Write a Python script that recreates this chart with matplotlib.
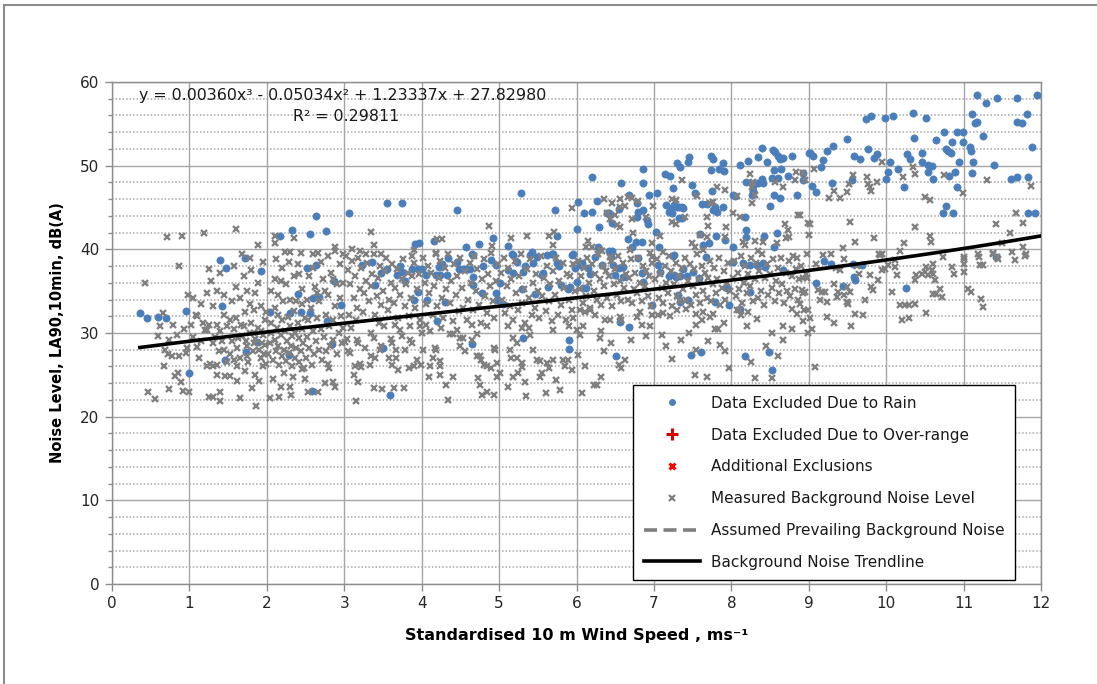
import matplotlib
matplotlib.use('Agg')
import matplotlib.pyplot as plt
import numpy as np
from matplotlib.lines import Line2D
from matplotlib.patches import Rectangle
from matplotlib.ticker import MultipleLocator

plt.rcParams['font.family'] = ['DejaVu Sans']

# ---------------- data ----------------
x_ticks = list(range(0, 13))
y_ticks = list(range(0, 61, 10))
trend_coef = [0.00360, -0.05034, 1.23337, 27.82980]
trend_range = [0.36, 12.0]
eq_text = "y = 0.00360x\u00b3 - 0.05034x\u00b2 + 1.23337x + 27.82980"
r2_text = "R\u00b2 = 0.29811"
legend_labels = ["Data Excluded Due to Rain", "Data Excluded Due to Over-range",
                 "Additional Exclusions", "Measured Background Noise Level",
                 "Assumed Prevailing Background Noise", "Background Noise Trendline"]
x_label = "Standardised 10 m Wind Speed , ms\u207b\u00b9"
y_label = "Noise Level, LA90,10min, dB(A)"

# Data excluded due to rain (wind speed m/s, dB(A))
rain_low = [
    (0.36, 32.4), (0.45, 31.8), (0.59, 31.9), (0.70, 31.8), (0.96, 32.6), (0.99, 25.2),
    (1.39, 38.7), (1.47, 37.8), (1.72, 39.0), (1.92, 37.4), (1.42, 33.2), (1.46, 26.8),
    (1.73, 27.7), (1.87, 28.9), (2.04, 32.5), (2.30, 32.4), (2.44, 32.5), (2.40, 34.7),
    (2.52, 37.8), (2.64, 38.1), (2.60, 34.2), (2.67, 34.3), (2.56, 32.4), (2.78, 31.4),
    (2.84, 28.7), (2.87, 36.2), (2.96, 33.3), (2.58, 23.1), (2.29, 27.4),
    (2.17, 41.6), (2.33, 42.3), (2.56, 41.8), (2.64, 44.0), (2.77, 42.2), (3.06, 44.3),
    (3.55, 45.5), (3.74, 45.5), (4.46, 44.7), (5.28, 46.7), (5.72, 44.7), (6.02, 45.7),
    (6.00, 42.4), (5.75, 41.6), (3.91, 40.6), (3.97, 40.8), (4.16, 41.0), (4.57, 40.3),
    (4.74, 40.6), (4.92, 41.4), (5.11, 40.4), (5.17, 39.4), (5.42, 39.7), (5.68, 39.5),
    (5.94, 39.3), (4.65, 39.4),
]
rain_mid = [
    (3.23, 38.1), (3.36, 38.5), (3.47, 37.2), (3.55, 37.6), (3.68, 36.9), (3.72, 38.0),
    (3.75, 37.3), (3.78, 36.2), (3.40, 35.7), (3.88, 37.6), (3.95, 37.6), (4.00, 37.6),
    (4.06, 36.9), (3.95, 34.9), (3.90, 34.0), (4.07, 34.0), (4.20, 31.4), (4.30, 33.7),
    (4.18, 36.9), (4.24, 36.9), (4.33, 36.9), (4.22, 37.9), (4.26, 38.2), (4.34, 39.0),
    (4.46, 38.5), (4.48, 37.6), (4.53, 37.6), (4.57, 37.6), (4.62, 37.6), (4.66, 39.3),
    (4.66, 36.7), (4.66, 35.7), (4.78, 34.8), (4.79, 38.0), (4.90, 38.7), (4.96, 38.1),
    (4.96, 34.8), (4.97, 34.0), (5.01, 36.0), (5.05, 33.5), (5.18, 39.3), (5.23, 38.5),
    (5.11, 37.5), (5.18, 37.2), (5.30, 35.3), (5.31, 37.3), (5.33, 38.0), (5.40, 39.3),
    (5.44, 38.4), (5.49, 39.1), (5.46, 34.7), (5.55, 36.9), (5.57, 37.2), (5.62, 39.3),
    (5.70, 39.4), (5.63, 35.5), (5.75, 38.4), (5.77, 38.0), (5.80, 35.7), (5.89, 35.3),
    (5.92, 35.5), (6.04, 38.1), (5.31, 29.4), (4.65, 28.7), (3.50, 28.2), (5.90, 29.2),
    (5.90, 28.1), (3.59, 22.6),
    (5.98, 37.8), (6.00, 36.1), (6.08, 35.4), (6.12, 35.4), (6.07, 38.4), (6.15, 37.8),
    (6.17, 37.0), (6.24, 39.1), (6.33, 38.1), (6.44, 39.1), (6.47, 38.1), (6.50, 36.9),
    (6.55, 37.8), (6.60, 37.9), (6.60, 36.7), (6.79, 39.0), (6.85, 37.2), (6.86, 36.1),
    (6.97, 33.3), (7.05, 38.1), (7.08, 37.3), (7.20, 36.8), (7.26, 36.9), (7.29, 36.7),
    (7.34, 36.8), (7.25, 39.2), (7.38, 37.6), (7.43, 36.8), (7.31, 34.5), (7.34, 33.7),
    (7.44, 34.0), (7.50, 37.3), (7.58, 36.6), (7.67, 39.1), (7.79, 33.7), (7.94, 35.4),
    (7.97, 33.3), (8.02, 38.5), (8.11, 32.9), (8.15, 38.4), (8.24, 38.1), (8.24, 34.9),
    (8.33, 38.1), (8.41, 38.4), (8.43, 37.9), (8.67, 37.5), (6.56, 31.3), (6.68, 30.7),
    (6.51, 27.3), (7.48, 27.4), (7.61, 27.7), (8.18, 27.3), (8.49, 27.7), (8.52, 25.6),
    (9.20, 38.6), (9.29, 38.2), (9.09, 36.0), (9.44, 35.6), (9.58, 36.7), (9.60, 36.3),
    (9.57, 38.2), (9.69, 38.1), (10.26, 35.4), (11.42, 39.1),
]
rain_high = [
    (6.20, 48.6), (6.86, 49.6), (6.86, 47.9), (6.57, 47.9), (6.10, 44.3), (6.20, 44.5),
    (6.26, 45.8), (6.29, 42.7), (6.39, 44.3), (6.42, 44.3), (6.55, 44.8), (6.68, 46.5),
    (6.78, 45.5), (6.79, 44.5), (6.78, 43.9), (6.86, 44.7), (6.91, 43.5), (6.93, 43.0),
    (6.94, 46.5), (7.04, 46.7), (6.46, 43.1), (6.66, 41.2), (6.72, 40.3), (6.77, 40.9),
    (6.85, 40.9), (6.28, 40.3), (6.42, 39.8), (6.46, 39.8), (5.95, 39.4), (7.03, 42.1),
    (7.07, 40.3), (7.26, 39.3), (7.14, 49.0), (7.21, 48.8), (7.30, 50.3), (7.34, 49.8),
    (7.44, 50.4), (7.45, 51.0), (7.25, 47.3), (7.16, 45.3), (7.22, 45.0), (7.26, 45.3),
    (7.30, 45.1), (7.32, 45.1), (7.36, 45.1), (7.20, 44.5), (7.23, 44.3), (7.32, 43.7),
    (7.36, 43.7), (7.38, 45.0), (7.49, 47.7), (7.53, 46.7), (7.62, 45.4), (7.69, 45.4),
    (7.74, 51.2), (7.76, 50.8), (7.74, 49.5), (7.75, 47.0), (7.79, 45.1), (7.84, 49.6),
    (7.89, 50.3), (7.90, 49.4), (7.76, 44.7), (7.81, 44.5), (7.89, 45.1), (7.63, 40.5),
    (7.71, 40.8), (7.60, 41.8), (7.80, 41.6), (7.92, 41.1), (8.02, 40.3), (8.11, 50.1),
    (8.21, 50.6), (8.34, 51.0), (8.40, 52.1), (8.46, 50.4), (8.54, 51.9), (8.57, 51.6),
    (8.60, 51.2), (8.63, 50.8), (8.67, 50.9), (8.78, 51.2), (8.55, 49.5), (8.64, 49.6),
    (8.60, 48.5), (8.52, 48.5), (8.40, 48.4), (8.34, 47.9), (8.41, 47.9), (8.19, 48.0),
    (8.28, 47.6), (8.28, 47.0), (8.27, 46.5), (8.02, 46.5), (8.05, 46.4), (8.55, 46.5),
    (8.63, 46.1), (8.50, 45.2), (8.73, 48.8), (8.85, 46.5), (8.18, 43.9), (8.19, 42.3),
    (8.19, 41.5), (8.42, 41.6), (8.59, 42.0), (8.55, 40.3), (9.02, 51.5),
    (8.92, 49.1), (8.93, 48.3), (9.04, 47.6), (9.09, 46.9), (9.00, 51.5), (9.05, 51.2),
    (9.16, 49.9), (9.19, 50.7), (9.23, 51.7), (9.31, 52.3), (9.30, 47.9), (9.49, 53.2),
    (9.56, 48.3), (9.58, 51.2), (9.66, 50.8), (9.74, 55.6), (9.80, 55.9), (9.76, 52.0),
    (9.84, 50.9), (9.88, 51.4), (9.98, 55.7), (10.09, 55.9), (10.00, 48.4), (10.02, 49.2),
    (10.05, 50.4), (10.15, 49.6), (10.23, 47.4), (10.27, 51.4), (10.31, 50.8), (10.35, 56.3),
    (10.36, 53.3), (10.46, 51.5), (10.46, 50.4), (10.52, 55.7), (10.54, 50.1), (10.59, 50.0),
    (10.54, 49.2), (10.61, 48.4), (10.65, 53.1), (10.75, 54.0), (10.77, 52.0), (10.80, 51.8),
    (10.84, 51.5), (10.85, 52.8), (10.89, 49.2), (10.81, 48.8), (10.91, 54.0), (10.99, 54.0),
    (10.91, 47.4), (10.99, 52.8), (10.94, 50.4), (10.77, 45.2), (10.73, 44.3), (10.86, 44.3),
    (11.08, 52.2), (11.10, 51.8), (11.11, 56.2), (11.12, 50.4), (11.11, 49.1), (11.15, 55.1),
    (11.17, 55.2), (11.17, 58.4), (11.25, 53.5), (11.29, 57.5), (11.39, 50.1), (11.43, 58.1),
    (11.61, 48.4), (11.69, 48.6), (11.69, 58.1), (11.69, 55.2), (11.75, 55.1), (11.82, 56.2),
    (11.83, 48.6), (11.88, 52.2), (11.83, 44.3), (11.92, 44.4), (11.95, 58.4),
]

# Measured background noise level (wind speed m/s, dB(A))
bg_0 = [
    (0.42, 36.0), (0.46, 22.9), (0.55, 22.1), (0.59, 29.7), (0.62, 30.8), (0.66, 32.4),
    (0.67, 26.1), (0.68, 28.0), (0.71, 41.5), (0.72, 27.5), (0.74, 29.2), (0.74, 23.3),
    (0.78, 27.3), (0.81, 24.9), (0.85, 25.2), (0.87, 38.0), (0.87, 27.2), (0.89, 24.2),
    (0.90, 41.6), (0.92, 23.1), (0.95, 27.6), (0.97, 28.2), (0.93, 30.5), (0.98, 34.5),
    (0.84, 29.8), (0.79, 31.0),
]
bg_1 = [
    (1.00, 23.0), (1.05, 34.2), (1.08, 32.1), (1.10, 32.0), (1.19, 42.0), (1.20, 30.3),
    (1.23, 30.4), (1.23, 34.8), (1.25, 37.6), (1.25, 30.9), (1.23, 26.1), (1.27, 26.3),
    (1.25, 22.4), (1.30, 22.4), (1.30, 26.0), (1.36, 26.2), (1.39, 22.9), (1.39, 21.9),
    (1.40, 37.2), (1.46, 24.9), (1.52, 24.9), (1.05, 29.5), (1.10, 28.3), (1.12, 27.0),
    (1.15, 29.0), (1.18, 31.2), (1.30, 28.8), (1.33, 29.5), (1.35, 31.0), (1.38, 27.8),
    (1.40, 30.2), (1.42, 29.0), (1.45, 28.0), (1.48, 30.8), (1.15, 33.5), (1.30, 33.2),
    (1.35, 35.0), (1.45, 34.5), (1.28, 36.2), (1.45, 32.2), (1.48, 26.5), (1.02, 31.0),
    (1.35, 25.0), (1.60, 42.4), (1.61, 24.3), (1.65, 22.2), (1.81, 23.4), (1.86, 21.3),
    (1.95, 26.1), (1.99, 26.3), (1.55, 29.0), (1.58, 30.5), (1.60, 31.8), (1.62, 28.2),
    (1.65, 27.0), (1.68, 29.6), (1.70, 30.8), (1.72, 32.5), (1.75, 28.5), (1.76, 26.5),
    (1.78, 30.0), (1.80, 31.2), (1.82, 27.8), (1.85, 29.3), (1.88, 30.6), (1.90, 28.0),
    (1.92, 27.0), (1.95, 29.8), (1.97, 31.5), (1.98, 28.6), (1.55, 33.8), (1.60, 35.5),
    (1.65, 34.2), (1.70, 36.8), (1.75, 35.0), (1.78, 33.5), (1.80, 37.5), (1.85, 34.8),
    (1.88, 36.0), (1.92, 33.2), (1.95, 38.5), (1.58, 38.0), (1.68, 39.5), (1.72, 25.5),
    (1.85, 25.0), (1.90, 24.3), (1.52, 27.5), (1.62, 26.0), (1.83, 32.8), (1.93, 30.2),
    (1.99, 32.5), (1.78, 39.0), (1.88, 40.5), (1.57, 26.8), (1.66, 31.0), (1.74, 27.2),
    (1.84, 30.0), (1.94, 28.8), (1.53, 31.5), (1.63, 29.4), (1.73, 29.0), (1.83, 28.8),
    (1.96, 27.5),
]
bg_2 = [
    (2.04, 22.2), (2.16, 22.3), (2.18, 23.5), (2.31, 22.6), (2.30, 23.5), (2.45, 25.7),
    (2.10, 41.6), (2.10, 40.8), (2.35, 41.4), (2.23, 39.7), (2.30, 39.7), (2.44, 39.6),
    (2.02, 27.5), (2.04, 28.8), (2.05, 30.0), (2.06, 31.2), (2.08, 26.8), (2.10, 29.2),
    (2.10, 33.0), (2.12, 27.9), (2.13, 30.6), (2.14, 32.2), (2.15, 28.5), (2.16, 26.2),
    (2.18, 29.8), (2.19, 31.5), (2.20, 27.2), (2.21, 33.8), (2.22, 28.0), (2.24, 30.2),
    (2.25, 26.6), (2.26, 29.0), (2.27, 31.9), (2.28, 27.6), (2.30, 30.8), (2.31, 28.4),
    (2.32, 26.0), (2.33, 29.6), (2.35, 32.6), (2.36, 27.0), (2.37, 30.0), (2.38, 28.2),
    (2.40, 31.2), (2.41, 26.5), (2.42, 29.4), (2.44, 27.8), (2.45, 33.5), (2.46, 30.5),
    (2.47, 28.8), (2.48, 25.8), (2.49, 31.8), (2.05, 35.0), (2.10, 36.5), (2.15, 34.5),
    (2.20, 37.8), (2.25, 35.8), (2.30, 34.0), (2.35, 36.8), (2.40, 38.2), (2.45, 35.2),
    (2.12, 38.8), (2.28, 38.5), (2.38, 33.8), (2.22, 25.2), (2.34, 24.8), (2.08, 24.5),
    (2.18, 36.2), (2.42, 37.0),
    (2.49, 24.5), (2.53, 22.9), (2.66, 23.0), (2.75, 24.0), (2.80, 25.8), (2.85, 24.2),
    (2.88, 23.5), (2.79, 26.3), (2.60, 39.4), (2.66, 39.6), (2.79, 39.2), (2.88, 40.3),
    (2.88, 39.8), (2.51, 27.0), (2.52, 29.5), (2.53, 31.5), (2.55, 28.2), (2.57, 33.0),
    (2.58, 26.2), (2.60, 30.2), (2.61, 27.5), (2.62, 35.5), (2.64, 29.0), (2.65, 31.8),
    (2.67, 28.0), (2.68, 33.8), (2.70, 30.5), (2.71, 26.8), (2.73, 36.5), (2.74, 29.5),
    (2.76, 32.2), (2.77, 27.8), (2.79, 34.5), (2.80, 30.8), (2.82, 28.5), (2.83, 37.2),
    (2.85, 31.5), (2.86, 29.2), (2.88, 33.2), (2.90, 27.5), (2.91, 35.8), (2.93, 30.0),
    (2.94, 38.2), (2.96, 32.0), (2.97, 28.8), (2.99, 36.0), (2.55, 36.8), (2.60, 37.8),
    (2.70, 38.5), (2.65, 34.8), (2.75, 35.0), (2.85, 36.5), (2.95, 34.2), (2.52, 34.0),
    (2.98, 39.5),
]
bg_3 = [
    (3.02, 39.2), (3.05, 37.5), (3.08, 35.8), (3.10, 38.6), (3.12, 34.2), (3.14, 36.8),
    (3.16, 33.0), (3.18, 39.0), (3.20, 35.2), (3.22, 37.8), (3.24, 32.5), (3.26, 34.8),
    (3.28, 36.2), (3.30, 38.4), (3.32, 33.8), (3.34, 35.6), (3.36, 37.0), (3.38, 39.4),
    (3.40, 32.2), (3.42, 34.4), (3.44, 36.6), (3.46, 38.0), (3.48, 33.4), (3.50, 35.0),
    (3.52, 37.4), (3.54, 39.0), (3.56, 32.8), (3.58, 34.0), (3.60, 36.0), (3.62, 38.2),
    (3.64, 33.6), (3.66, 35.4), (3.68, 37.6), (3.70, 31.8), (3.72, 34.6), (3.74, 36.4),
    (3.76, 38.8), (3.78, 33.2), (3.80, 35.8), (3.82, 37.2), (3.84, 32.0), (3.86, 34.2),
    (3.88, 36.8), (3.90, 38.4), (3.92, 33.0), (3.94, 35.2), (3.96, 37.0), (3.98, 31.6),
    (3.06, 32.2), (3.15, 31.5), (3.45, 31.2), (3.65, 31.0), (3.85, 30.8),
    (3.34, 42.1), (3.38, 40.5), (3.10, 40.0), (3.20, 39.8), (3.28, 39.4), (3.48, 39.5),
    (3.90, 39.9), (3.88, 39.2),
    (2.99, 30.6), (3.09, 30.6), (3.03, 29.3), (3.01, 28.9), (3.05, 27.9), (3.07, 27.6),
    (3.16, 29.2), (3.18, 28.8), (3.14, 26.1), (3.20, 26.3), (3.22, 25.9), (3.12, 25.0),
    (3.18, 24.2), (3.15, 21.9), (3.27, 28.2), (3.35, 30.0), (3.38, 29.4), (3.35, 27.2),
    (3.40, 27.0), (3.33, 26.2), (3.46, 28.0), (3.48, 28.4), (3.51, 30.8), (3.60, 29.3),
    (3.62, 28.8), (3.67, 28.0), (3.58, 27.0), (3.67, 27.0), (3.62, 26.2), (3.70, 25.6),
    (3.38, 23.4), (3.49, 23.3), (3.64, 23.4), (3.77, 23.4), (3.72, 30.4), (3.74, 29.6),
    (3.85, 29.2), (3.87, 28.8), (3.78, 28.0), (3.83, 25.8), (3.90, 26.0), (3.99, 26.2),
    (3.94, 26.8),
]
bg_4 = [
    (4.02, 28.0), (3.98, 30.8), (4.00, 30.0), (4.11, 30.2), (4.17, 28.2), (4.19, 28.0),
    (4.15, 27.0), (4.24, 26.6), (4.11, 26.0), (4.09, 24.8), (4.24, 26.0), (4.24, 25.0),
    (4.32, 23.8), (4.34, 22.0), (4.41, 24.8), (4.37, 29.9), (4.41, 29.9), (4.50, 29.4),
    (4.54, 29.4), (4.50, 28.4), (4.56, 27.9), (4.65, 29.2), (4.71, 29.9), (4.71, 27.2),
    (4.75, 27.2), (4.77, 26.8), (4.80, 26.2), (4.73, 24.6), (4.75, 23.8), (4.84, 23.0),
    (4.78, 22.6), (4.93, 22.6), (4.84, 26.0), (4.90, 25.8), (4.97, 24.8), (5.01, 25.2),
    (4.95, 28.0), (4.93, 28.2), (4.97, 26.4),
    (4.02, 39.0), (4.04, 36.0), (4.06, 33.5), (4.08, 38.0), (4.10, 34.8), (4.12, 37.2),
    (4.14, 32.2), (4.16, 35.6), (4.18, 39.6), (4.20, 33.2), (4.22, 36.6), (4.24, 38.6),
    (4.26, 34.2), (4.28, 31.8), (4.30, 37.8), (4.32, 35.2), (4.34, 39.4), (4.36, 33.6),
    (4.38, 36.2), (4.40, 31.4), (4.42, 38.2), (4.44, 34.6), (4.46, 36.8), (4.48, 32.6),
    (4.50, 39.0), (4.52, 35.4), (4.54, 33.0), (4.56, 37.4), (4.58, 31.6), (4.60, 34.0),
    (4.62, 38.4), (4.64, 36.0), (4.66, 32.8), (4.68, 39.2), (4.70, 35.0), (4.72, 37.6),
    (4.74, 33.4), (4.76, 31.2), (4.78, 36.4), (4.80, 38.8), (4.82, 34.4), (4.84, 32.4),
    (4.86, 37.0), (4.88, 35.6), (4.90, 39.6), (4.92, 33.8), (4.94, 31.8), (4.96, 36.2),
    (4.98, 38.2), (4.05, 31.0), (4.25, 30.6), (4.45, 30.4), (4.65, 31.0), (4.85, 30.8),
    (4.87, 42.8), (4.91, 40.4), (4.20, 41.2), (4.26, 41.2), (4.18, 39.5),
]
bg_5 = [
    (5.12, 30.8), (5.18, 29.4), (5.23, 28.8), (5.14, 28.0), (5.16, 27.0), (5.23, 27.0),
    (5.29, 26.4), (5.29, 25.9), (5.25, 25.2), (5.18, 24.8), (5.12, 23.6), (5.34, 24.2),
    (5.38, 30.6), (5.40, 29.8), (5.44, 28.0), (5.49, 26.8), (5.53, 26.6), (5.53, 24.8),
    (5.55, 25.2), (5.62, 26.4), (5.64, 25.8), (5.70, 26.8), (5.74, 24.4), (5.79, 23.2),
    (5.83, 26.8), (5.85, 26.0), (5.89, 26.8), (5.94, 25.6), (6.00, 30.4), (6.04, 29.8),
    (5.60, 22.8), (5.35, 22.5),
    (5.02, 37.2), (5.04, 34.0), (5.06, 39.0), (5.08, 32.4), (5.10, 35.6), (5.12, 37.8),
    (5.14, 33.2), (5.16, 36.4), (5.18, 31.6), (5.20, 38.6), (5.22, 34.8), (5.24, 32.8),
    (5.26, 36.8), (5.28, 39.4), (5.30, 33.6), (5.32, 35.2), (5.34, 31.2), (5.36, 37.6),
    (5.38, 34.2), (5.40, 38.8), (5.42, 32.2), (5.44, 36.0), (5.46, 33.0), (5.48, 37.0),
    (5.50, 35.0), (5.52, 31.8), (5.54, 39.2), (5.56, 34.4), (5.58, 36.6), (5.60, 32.6),
    (5.62, 38.0), (5.64, 33.8), (5.66, 35.8), (5.68, 31.4), (5.70, 37.4), (5.72, 34.6),
    (5.74, 39.0), (5.76, 32.2), (5.78, 36.2), (5.80, 33.4), (5.82, 38.4), (5.84, 35.4),
    (5.86, 31.6), (5.88, 37.0), (5.90, 34.0), (5.92, 36.8), (5.94, 32.8), (5.96, 38.2),
    (5.98, 35.0), (5.30, 30.6), (5.70, 30.4), (5.90, 30.8),
    (5.15, 41.4), (5.36, 41.6), (5.64, 41.6), (5.71, 42.1), (5.69, 40.5), (5.94, 44.9),
]
bg_6 = [
    (5.96, 31.8), (6.09, 30.8), (6.05, 32.7), (6.11, 32.5), (6.17, 32.7), (6.24, 32.1),
    (6.32, 30.2), (6.30, 29.4), (6.35, 27.8), (6.37, 31.5), (6.43, 31.5), (6.56, 31.9),
    (6.58, 31.5), (6.63, 26.8), (6.55, 26.2), (6.58, 25.8), (6.32, 24.8), (6.26, 23.8),
    (6.22, 23.8), (6.07, 22.8), (6.11, 26.0), (6.02, 27.4), (6.78, 31.9), (6.82, 32.5),
    (6.84, 31.0), (6.95, 30.8), (6.97, 32.1), (6.45, 28.8), (6.70, 29.2), (6.90, 29.6),
    (6.35, 46.0), (6.46, 45.5), (6.56, 46.0), (6.56, 45.1), (6.63, 45.2), (6.67, 46.2),
    (6.72, 46.1), (6.79, 45.8), (6.40, 44.3), (6.50, 44.1), (6.43, 43.6), (6.52, 42.9),
    (6.56, 42.7), (6.72, 43.6), (6.90, 43.9), (6.15, 41.0), (6.12, 40.3), (6.20, 40.3),
    (6.30, 39.9), (6.33, 39.8), (6.43, 39.1), (6.73, 42.0), (6.69, 39.9), (6.97, 40.8),
    (6.95, 39.6), (6.97, 39.1), (6.99, 45.2),
    (6.02, 38.6), (6.04, 35.2), (6.06, 36.8), (6.08, 33.6), (6.10, 37.8), (6.12, 34.4),
    (6.14, 39.0), (6.16, 36.0), (6.18, 33.0), (6.20, 38.2), (6.22, 35.0), (6.24, 37.0),
    (6.26, 34.0), (6.28, 39.4), (6.30, 36.4), (6.32, 33.4), (6.34, 38.0), (6.36, 35.6),
    (6.38, 37.4), (6.40, 34.2), (6.42, 36.8), (6.44, 38.6), (6.46, 33.2), (6.48, 35.8),
    (6.50, 37.6), (6.52, 34.6), (6.54, 39.2), (6.56, 36.2), (6.58, 33.8), (6.60, 38.4),
    (6.62, 35.4), (6.64, 37.0), (6.66, 34.0), (6.68, 36.6), (6.70, 38.8), (6.72, 33.6),
    (6.74, 35.2), (6.76, 37.2), (6.78, 34.8), (6.80, 39.0), (6.82, 36.0), (6.84, 33.8),
    (6.86, 38.0), (6.88, 35.6), (6.90, 37.4), (6.92, 34.4), (6.94, 36.8), (6.96, 33.2),
    (6.98, 38.4),
]
bg_7 = [
    (7.05, 32.2), (7.12, 32.4), (7.21, 32.0), (7.30, 32.7), (7.42, 32.9), (7.55, 32.3),
    (7.64, 32.5), (7.55, 30.9), (7.62, 31.5), (7.72, 31.9), (7.76, 32.3), (7.79, 30.5),
    (7.83, 30.5), (7.90, 31.2), (7.23, 26.9), (7.55, 28.0), (7.53, 25.0), (7.68, 24.8),
    (7.92, 27.8), (7.97, 25.8), (7.10, 29.8), (7.35, 29.2), (7.45, 30.0), (7.15, 28.5),
    (7.70, 29.0), (7.85, 28.6),
    (7.08, 41.6), (7.12, 39.7), (7.23, 43.3), (7.29, 43.0), (7.40, 43.9), (7.36, 48.3),
    (7.23, 46.0), (7.29, 45.9), (7.56, 46.4), (7.68, 43.9), (7.70, 42.8), (7.72, 45.5),
    (7.76, 45.7), (7.81, 47.4), (7.92, 47.1), (7.60, 41.7), (7.68, 41.5), (7.92, 41.5),
    (7.93, 42.7), (7.49, 40.8), (7.53, 40.3), (7.63, 39.9),
    (7.02, 36.4), (7.04, 38.8), (7.06, 34.2), (7.08, 37.0), (7.10, 35.4), (7.12, 33.6),
    (7.14, 38.0), (7.16, 36.0), (7.18, 34.8), (7.20, 39.2), (7.22, 37.4), (7.24, 33.2),
    (7.26, 35.8), (7.28, 38.4), (7.30, 34.4), (7.32, 36.8), (7.34, 33.8), (7.36, 37.8),
    (7.38, 35.2), (7.40, 39.0), (7.42, 34.0), (7.44, 36.2), (7.46, 38.2), (7.48, 33.4),
    (7.50, 35.6), (7.52, 37.6), (7.54, 34.6), (7.56, 39.4), (7.58, 36.4), (7.60, 33.6),
    (7.62, 38.0), (7.64, 35.0), (7.66, 37.2), (7.68, 34.2), (7.70, 36.6), (7.72, 38.6),
    (7.74, 33.8), (7.76, 35.8), (7.78, 37.8), (7.80, 34.8), (7.82, 36.4), (7.84, 39.0),
    (7.86, 33.4), (7.88, 35.4), (7.90, 37.4), (7.92, 34.0), (7.94, 36.0), (7.96, 38.4),
    (7.98, 35.0),
]
bg_8 = [
    (8.07, 32.7), (8.10, 32.7), (8.12, 32.1), (8.22, 32.5), (8.33, 31.7), (8.20, 30.8),
    (8.31, 24.6), (8.52, 24.6), (8.67, 30.8), (8.67, 29.2), (8.52, 30.0), (8.78, 30.5),
    (8.78, 32.9), (8.85, 32.3), (8.89, 33.5), (8.93, 31.4), (8.99, 32.7), (8.93, 36.6),
    (8.98, 36.6), (8.91, 35.1), (8.95, 34.9), (8.94, 32.7), (9.02, 31.8), (9.04, 30.5),
    (8.99, 30.0), (9.08, 25.9), (8.45, 28.5), (8.60, 27.2), (8.25, 26.5),
    (8.02, 44.3), (8.07, 46.4), (8.11, 43.9), (8.24, 49.0), (8.27, 47.9), (8.27, 47.4),
    (8.28, 48.0), (8.30, 46.5), (8.27, 45.5), (8.15, 40.9), (8.18, 40.5), (8.31, 41.0),
    (8.34, 39.8), (8.41, 40.9), (8.59, 40.8), (8.56, 48.0), (8.67, 47.4), (8.69, 43.0),
    (8.73, 42.3), (8.75, 41.5), (8.70, 41.4), (8.83, 49.2), (8.82, 48.3), (8.86, 44.1),
    (8.93, 49.1), (8.95, 48.3), (8.99, 43.1), (8.85, 39.0), (8.89, 44.1),
    (8.02, 36.6), (8.04, 38.6), (8.06, 34.4), (8.08, 37.2), (8.10, 35.2), (8.12, 39.2),
    (8.14, 33.6), (8.16, 36.0), (8.18, 38.0), (8.20, 34.8), (8.22, 37.0), (8.24, 35.6),
    (8.26, 39.0), (8.28, 33.8), (8.30, 36.4), (8.32, 38.4), (8.34, 34.2), (8.36, 37.4),
    (8.38, 35.0), (8.40, 39.4), (8.42, 33.4), (8.44, 36.6), (8.46, 38.2), (8.48, 34.6),
    (8.50, 37.0), (8.52, 35.4), (8.54, 38.8), (8.56, 33.8), (8.58, 36.2), (8.60, 37.8),
    (8.62, 34.8), (8.64, 39.0), (8.66, 35.8), (8.68, 33.6), (8.70, 37.2), (8.72, 35.0),
    (8.74, 38.6), (8.76, 34.4), (8.78, 36.8), (8.80, 39.2), (8.82, 35.2), (8.84, 37.6),
    (8.86, 34.0), (8.88, 36.4), (8.90, 38.0), (8.92, 34.8), (8.96, 37.0), (8.98, 39.4),
]
bg_9 = [
    (9.18, 39.3), (9.29, 39.4), (9.10, 38.2), (9.12, 35.1), (9.17, 34.9), (9.21, 34.9),
    (9.23, 33.7), (9.15, 33.9), (9.32, 31.2), (9.23, 31.9), (9.55, 30.8), (9.60, 32.3),
    (9.70, 32.1), (9.73, 33.9), (9.79, 36.9), (9.81, 35.5), (9.83, 35.1), (9.92, 39.3),
    (9.90, 36.3), (9.94, 37.5), (9.98, 37.7), (9.32, 35.9), (9.36, 34.3), (9.38, 34.9),
    (9.45, 34.5), (9.49, 35.5), (9.53, 34.9), (9.49, 33.7), (9.51, 33.5), (9.40, 37.5),
    (9.62, 38.0), (9.65, 37.0), (9.45, 38.8), (9.35, 37.8),
    (9.07, 49.6), (9.02, 43.0), (9.00, 41.7), (9.26, 46.1), (9.32, 47.0), (9.41, 46.1),
    (9.49, 46.9), (9.52, 47.8), (9.57, 48.9), (9.75, 48.6), (9.76, 47.8), (9.79, 47.4),
    (9.80, 47.0), (9.88, 48.0), (9.95, 50.4), (9.53, 43.3), (9.60, 40.9), (9.44, 40.1),
    (9.84, 41.4), (9.91, 39.4), (9.95, 39.5),
]
bg_10 = [
    (10.07, 34.9), (10.18, 33.3), (10.24, 33.3), (10.29, 33.3), (10.37, 33.5), (10.20, 31.6),
    (10.29, 31.8), (10.51, 32.4), (10.37, 36.3), (10.39, 36.9), (10.46, 37.1), (10.50, 37.3),
    (10.52, 37.9), (10.54, 36.9), (10.59, 37.5), (10.61, 38.3), (10.61, 37.1), (10.63, 36.3),
    (10.70, 35.3), (10.65, 34.7), (10.72, 34.3), (10.60, 34.7), (10.74, 39.1), (10.85, 37.9),
    (10.87, 37.1), (10.11, 37.9), (10.11, 38.7), (10.14, 36.9), (10.03, 38.1),
    (10.18, 39.8), (10.23, 40.8), (10.22, 48.6), (10.35, 49.8), (10.37, 49.0), (10.37, 42.7),
    (10.50, 46.3), (10.57, 45.9), (10.57, 41.6), (10.58, 40.9), (10.75, 48.9), (10.99, 46.7),
]
bg_11 = [
    (11.00, 38.9), (11.01, 38.3), (11.00, 37.3), (11.06, 35.3), (11.10, 34.9), (11.23, 34.1),
    (11.25, 33.1), (11.19, 39.5), (11.21, 38.1), (11.25, 38.1), (11.38, 39.5), (11.43, 39.1),
    (11.45, 38.9), (11.62, 39.7), (11.66, 38.7), (11.79, 39.2),
    (11.00, 39.1), (11.20, 39.1), (11.30, 48.3), (11.38, 39.6), (11.42, 43.0), (11.50, 40.8),
    (11.60, 42.0), (11.68, 44.3), (11.77, 43.1), (11.77, 40.3), (11.80, 39.5), (11.87, 47.6),
]

# ---------------- plot ----------------
rain = rain_low + rain_mid + rain_high
background = bg_0 + bg_1 + bg_2 + bg_3 + bg_4 + bg_5 + bg_6 + bg_7 + bg_8 + bg_9 + bg_10 + bg_11
rain_ws, rain_db = zip(*rain)
bg_ws, bg_db = zip(*background)

W, H = 1097, 684
fig = plt.figure(figsize=(W / 100, H / 100), dpi=100)
fig.patch.set_facecolor('white')
ax = fig.add_axes([112 / W, 1 - 584 / H, 929 / W, 502 / H])

grid_c = '#a6a6a6'
BLUE = '#4a7ebb'
GREY = '#808080'

ax.set_xlim(0, 12)
ax.set_ylim(0, 60)
ax.set_xticks(x_ticks)
ax.set_yticks(y_ticks)
ax.yaxis.set_minor_locator(MultipleLocator(2))
ax.grid(True, which='major', color=grid_c, lw=1.0, ls='-', zorder=0)
ax.grid(True, which='minor', axis='y', color=grid_c, lw=1.1, ls=(0, (1, 1.3)), zorder=0)
ax.set_axisbelow(True)
for s in ax.spines.values():
    s.set_color('#8c8c8c')
    s.set_linewidth(1.0)
ax.tick_params(axis='both', which='major', direction='out', length=5, width=1,
               color='#8c8c8c', labelsize=11, labelcolor='#262626', pad=4)
ax.tick_params(axis='y', which='minor', direction='out', length=3, width=1, color='#8c8c8c')
ax.tick_params(axis='x', which='minor', length=0)

ax.plot(rain_ws, rain_db, ls='none', marker='o', ms=5.2, mfc=BLUE, mec=BLUE, mew=0.5, zorder=3)
ax.plot(bg_ws, bg_db, ls='none', marker='x', ms=4.3, mec=GREY, mew=1.7, zorder=4)

xt = np.linspace(trend_range[0], trend_range[1], 200)
ax.plot(xt, np.polyval(trend_coef, xt), color='black', lw=2.6, zorder=5)

ax.text(2.98, 58.4, eq_text, ha='center', va='center', fontsize=11.4, color='#1a1a1a', zorder=6)
ax.text(3.03, 55.9, r2_text, ha='center', va='center', fontsize=11.4, color='#1a1a1a', zorder=6)

ax.set_xlabel(x_label, fontsize=11.5, fontweight='bold', labelpad=12)
ax.set_ylabel(y_label, fontsize=10.5, fontweight='bold', labelpad=11)

handles = [
    Line2D([], [], ls='none', marker='o', ms=4, mfc=BLUE, mec=BLUE),
    Line2D([], [], ls='none', marker='+', ms=8, mec='#d00000', mew=2.2),
    Line2D([], [], ls='none', marker='x', ms=4.2, mec='#ff0000', mew=2.2),
    Line2D([], [], ls='none', marker='x', ms=3.8, mec=GREY, mew=1.6),
    Line2D([], [], color=GREY, lw=2.6, ls=(0, (3.6, 1.8))),
    Line2D([], [], color='black', lw=2.6),
]
leg = ax.legend(handles, legend_labels, loc='upper left', bbox_to_anchor=(0.5608, 0.3964),
                fontsize=11, frameon=True, fancybox=False, framealpha=1, edgecolor='black',
                borderpad=0.7, labelspacing=1.1, handlelength=3.7, handletextpad=0.7,
                borderaxespad=0)
leg.get_frame().set_linewidth(1.0)
leg.set_zorder(10)
for t in leg.get_texts():
    t.set_color('#1a1a1a')

# outer chart border
fig.patches.append(Rectangle((4 / W, -0.05), 1.1, 1 - 5 / H + 0.05, transform=fig.transFigure,
                             fill=False, edgecolor='#8c8c8c', lw=1.5))

fig.savefig('out.png', dpi=100, facecolor='white')
